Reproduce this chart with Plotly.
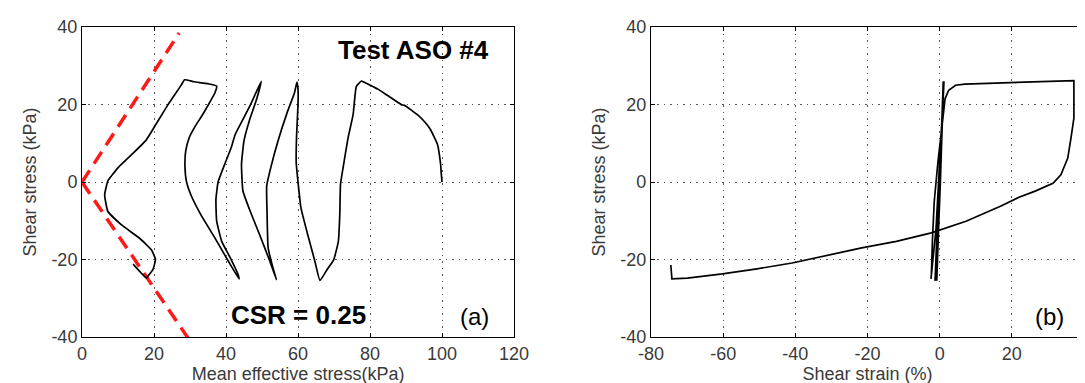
import plotly.graph_objects as go

# ---------------- Data ----------------
# (a) stress path: mean effective stress p' (kPa) vs shear stress (kPa)
p_eff = [100, 99.8, 99.6, 98.7, 96.7, 95.2, 93.4, 89.6, 88.7, 84.8, 82.2, 80.9, 78.1, 77.6,
         76.2, 75.3, 73.9, 72.5, 71.8, 71.6, 71.2, 69.9, 68.0, 66.1,
         64.7, 62.7, 60.8, 60.0, 59.5, 59.6, 60.0, 60.0, 59.7,
         59.0, 57.0, 54.4, 52.5, 51.3, 51.4, 51.7, 53.0, 54.0,
         52.0, 49.5, 46.5, 44.7, 44.3, 45.0, 46.5, 48.4, 49.8,
         46.5, 42.6, 41.4, 39.8, 37.8, 37.2, 37.4, 38.8, 41.2, 43.4, 43.6,
         40.7, 36.9, 33.0, 30.2, 29.0, 28.6, 28.8, 29.8, 31.5, 33.1, 35.0, 36.9, 37.4,
         35.0, 31.1, 28.5,
         27.6, 23.9, 20.6, 17.7, 13.9, 10.1, 7.2, 6.3, 7.2, 10.9, 16.0, 19.3, 20.4, 19.7, 18.3, 17.9,
         14.2]
tau_a = [0, 2.0, 4.6, 9.8, 13.7, 15.5, 17.2, 19.8, 20.0, 22.4, 24.0, 24.6, 25.9, 26.1,
         24.7, 17.4, 11.4, 3.6, -0.6, -8.4, -15.3, -20.1, -22.7, -25.4,
         -20.5, -13.6, -6.6, 0.0, 5.0, 12.0, 20.0, 24.0, 25.8,
         23.0, 18.0, 10.5, 4.0, -1.0, -8.0, -17.0, -22.0, -25.2,
         -20.0, -14.0, -7.0, -2.3, 4.6, 10.7, 15.9, 21.1, 26.0,
         19.4, 12.4, 8.8, 5.0, 0.0, -4.5, -10.0, -15.3, -19.6, -24.0, -25.0,
         -20.5, -14.4, -8.4, -3.2, 0.2, 4.0, 8.0, 11.5, 14.5, 16.8, 19.8, 23.0, 24.8,
         25.4, 25.9, 26.4,
         25.1, 20.0, 15.0, 10.7, 7.2, 3.8, 0.3, -3.3, -7.6, -11.0, -14.5, -17.5, -20.0, -22.6, -24.3, -24.8,
         -21.2]

# failure envelope lines (red dashed), each drawn from the origin
env_up_p = [0.0, 27.0]
env_up_tau = [0.0, 38.5]
env_lo_p = [0.0, 30.2]
env_lo_tau = [0.0, -41.3]

# (b) stress-strain: shear strain (%) vs shear stress (kPa)
gamma = [0, 0.3, 0.6, 0.9, 1.0,
         0.9, 0.5, 0.1, -0.3, -0.6, -0.8,
         -0.7, -0.3, 0.2, 0.6, 1.0, 1.1,
         1.0, 0.5, 0.0, -0.5, -1.0, -1.3,
         -1.2, -0.7, -0.1, 0.5, 1.0, 1.2,
         1.1, 0.4, -0.3, -1.0, -1.8, -2.4,
         -2.3, -2.0, -1.5, -0.5, 0.5, 1.1, 1.5, 2.5, 4.4, 7.0, 10.0, 20.0, 30.0, 37.2,
         37.2, 37.2, 36.4, 35.5, 33.6, 31.4, 26.3, 21.8, 17.0, 7.3, -2.3, -12.0, -21.6,
         -31.3, -40.9, -50.6, -60.2, -69.9, -74.2,
         -74.5]
tau_b = [0, 8, 18, 24, 26,
         25, 12, 0, -12, -22, -25.5,
         -24, -12, 0, 12, 22, 26,
         25, 12, 0, -12, -22, -25.5,
         -24, -12, 0, 12, 22, 26,
         25, 12, 0, -12, -20, -25,
         -24, -15, -5, 5, 14, 19.4, 21.5, 23.7, 25.0, 25.3, 25.4, 25.7, 26.0, 26.2,
         20.0, 16.5, 11.4, 6.2, 1.9, -0.3, -2.4, -4.0, -6.2, -10.1, -13.1, -15.3, -17.0,
         -18.9, -20.9, -22.4, -23.7, -24.8, -25.0,
         -21.4]

xa_ticks = [0, 20, 40, 60, 80, 100, 120]
xa_labels = ["0", "20", "40", "60", "80", "100", "120"]
xb_ticks = [-80, -60, -40, -20, 0, 20, 40]
xb_labels = ["-80", "-60", "-40", "-20", "0", "20", "40"]
y_ticks = [-40, -20, 0, 20, 40]
y_labels = ["-40", "-20", "0", "20", "40"]

# ---------------- Figure ----------------
fig = go.Figure()
red_line = dict(color="#ff1a1a", width=3.5, dash="14px,8px")
fig.add_trace(go.Scatter(x=env_up_p, y=env_up_tau, mode="lines", line=red_line,
                         xaxis="x", yaxis="y", showlegend=False))
fig.add_trace(go.Scatter(x=env_lo_p, y=env_lo_tau, mode="lines", line=red_line,
                         xaxis="x", yaxis="y", showlegend=False))
fig.add_trace(go.Scatter(x=p_eff, y=tau_a, mode="lines",
                         line=dict(color="black", width=1.7, shape="spline", smoothing=0.4),
                         xaxis="x", yaxis="y", showlegend=False))
fig.add_trace(go.Scatter(x=gamma, y=tau_b, mode="lines",
                         line=dict(color="black", width=1.7),
                         xaxis="x2", yaxis="y2", showlegend=False))

tickfont = dict(family="Arial, Liberation Sans", size=18, color="#3a3a3a")
titlefont = dict(family="Arial, Liberation Sans", size=18, color="#3a3a3a")

common = dict(showline=True, linecolor="black", linewidth=1, mirror="ticks",
              ticks="inside", ticklen=4, tickcolor="black",
              showgrid=True, gridcolor="#555555", gridwidth=1, griddash="1.5px,5px",
              zeroline=False, tickfont=tickfont, automargin=False)

fig.update_layout(
    width=1085, height=383,
    margin=dict(l=0, r=0, t=0, b=0),
    plot_bgcolor="white", paper_bgcolor="white",
    xaxis=dict(domain=[0.0682, 0.4664], range=[0, 120], tickvals=xa_ticks, ticktext=xa_labels,
               title=dict(text="Mean effective stress(kPa)", font=titlefont, standoff=2),
               anchor="y", **common),
    yaxis=dict(domain=[0.141, 0.950], range=[-40, 40], tickvals=y_ticks, ticktext=y_labels,
               title=dict(text="Shear stress (kPa)", font=titlefont, standoff=10),
               anchor="x", **common),
    xaxis2=dict(domain=[0.5926, 0.9917], range=[-80, 40], tickvals=xb_ticks, ticktext=xb_labels,
                title=dict(text="Shear strain (%)", font=titlefont, standoff=2),
                anchor="y2", **common),
    yaxis2=dict(domain=[0.141, 0.950], range=[-40, 40], tickvals=y_ticks, ticktext=y_labels,
                title=dict(text="Shear stress (kPa)", font=titlefont, standoff=10),
                anchor="x2", **common),
    annotations=[
        dict(text="<b>Test ASO #4</b>", x=92, y=34, xref="x", yref="y", showarrow=False,
             font=dict(family="Arial, Liberation Sans", size=26, color="black")),
        dict(text="<b>CSR = 0.25</b>", x=60, y=-34.4, xref="x", yref="y", showarrow=False,
             font=dict(family="Arial, Liberation Sans", size=26, color="black")),
        dict(text="(a)", x=109, y=-34.8, xref="x", yref="y", showarrow=False,
             font=dict(family="Arial, Liberation Sans", size=24, color="black")),
        dict(text="(b)", x=30.5, y=-34.8, xref="x2", yref="y2", showarrow=False,
             font=dict(family="Arial, Liberation Sans", size=24, color="black")),
    ],
)

fig.write_html("out.html")
